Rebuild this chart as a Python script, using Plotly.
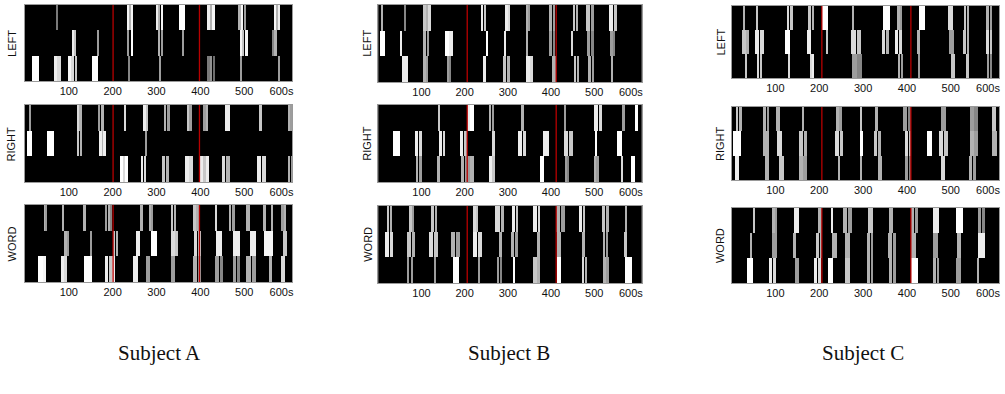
import plotly.graph_objects as go

# time axis (seconds)
X_RANGE = [0, 610]
TICK_VALS = [100, 200, 300, 400, 500, 585]
TICK_TEXT = ["100", "200", "300", "400", "500", "600s"]

SUBJECTS = ["Subject A", "Subject B", "Subject C"]
CONDITIONS = ["LEFT", "RIGHT", "WORD"]

# red event markers (s) per subject
RED_A = [201, 398]
RED_B = [206, 412]
RED_C = [206, 409]

# segments: (start s, end s, grey level 0..1); rows top / mid / bot
A_LEFT_top = [(71, 73, 0.35), (233, 237, 0.95), (238, 241, 0.6), (242, 247, 0.95), (300, 304, 0.9), (305, 309, 0.6), (310, 315, 0.95),
              (351, 364, 1.0), (417, 421, 0.9), (422, 426, 0.6), (427, 433, 0.95), (488, 492, 0.6), (493, 498, 0.95), (499, 505, 0.5),
              (567, 572, 0.95), (573, 576, 0.6), (577, 581, 0.9)]
A_LEFT_mid = [(108, 111, 0.9), (112, 116, 0.7), (165, 168, 0.5), (234, 237, 0.5), (243, 247, 1.0), (304, 308, 0.6), (310, 315, 0.5),
              (359, 362, 0.5), (491, 496, 0.95), (497, 500, 0.7), (501, 509, 0.95), (565, 568, 0.4), (570, 574, 0.6)]
A_LEFT_bot = [(15, 32, 1.0), (67, 72, 0.9), (73, 83, 0.8), (99, 104, 0.95), (106, 111, 0.8), (113, 118, 0.7), (153, 167, 1.0),
              (235, 238, 0.4), (306, 308, 0.5), (417, 421, 0.35), (423, 426, 0.45), (428, 433, 0.3), (491, 493, 0.5), (579, 581, 0.5)]

A_RIGHT_top = [(11, 13, 0.5), (119, 122, 0.8), (124, 129, 0.6), (167, 171, 0.5), (173, 180, 0.6), (225, 231, 0.8), (271, 275, 0.9),
               (277, 281, 0.7), (316, 321, 0.6), (323, 330, 0.5), (370, 375, 0.7), (376, 380, 0.5), (408, 412, 0.5), (413, 417, 0.6),
               (457, 468, 0.9), (533, 540, 0.7), (600, 603, 0.6), (606, 609, 0.5)]
A_RIGHT_mid = [(4, 17, 1.0), (51, 66, 1.0), (119, 123, 0.7), (125, 131, 0.6), (169, 175, 0.9), (176, 179, 0.6), (180, 184, 0.9),
               (275, 278, 0.5)]
A_RIGHT_bot = [(216, 224, 1.0), (225, 229, 0.8), (230, 234, 1.0), (266, 270, 0.9), (272, 277, 0.8), (313, 320, 0.7), (322, 329, 0.6),
               (364, 373, 0.9), (374, 382, 0.8), (398, 406, 0.9), (407, 412, 0.7), (413, 420, 0.9), (450, 457, 0.8), (459, 467, 0.6),
               (529, 539, 0.9), (540, 549, 0.8), (600, 604, 0.6), (606, 611, 0.5)]

A_WORD_top = [(44, 46, 0.6), (47, 49, 0.5), (85, 87, 0.6), (134, 138, 0.6), (184, 188, 0.5), (190, 194, 0.6), (195, 197, 0.4),
              (264, 268, 0.6), (283, 287, 0.6), (289, 292, 0.5), (332, 337, 0.7), (339, 344, 0.6), (382, 389, 0.7), (391, 398, 0.6),
              (435, 438, 0.8), (465, 470, 0.6), (472, 478, 0.5), (505, 512, 0.6), (543, 550, 0.6), (562, 564, 0.6), (584, 590, 0.5),
              (591, 596, 0.6)]
A_WORD_mid = [(91, 95, 0.6), (96, 99, 0.5), (150, 153, 0.5), (201, 206, 0.7), (208, 212, 0.6), (253, 263, 0.9), (287, 300, 1.0),
              (334, 341, 0.8), (343, 349, 0.7), (386, 393, 0.8), (395, 402, 0.7), (436, 450, 0.9), (474, 490, 0.9), (512, 527, 0.9),
              (546, 565, 0.95), (588, 597, 0.7)]
A_WORD_bot = [(30, 40, 1.0), (41, 49, 0.95), (81, 88, 0.9), (90, 96, 0.8), (135, 152, 1.0), (182, 190, 0.9), (192, 198, 0.7),
              (199, 205, 0.9), (247, 258, 0.9), (277, 285, 0.5), (334, 342, 0.5), (383, 392, 0.6), (394, 402, 0.5), (433, 442, 0.5),
              (444, 452, 0.4), (474, 482, 0.5), (484, 490, 0.4), (505, 515, 0.6), (517, 526, 0.5), (556, 564, 0.6), (584, 594, 0.8)]

B_LEFT_top = [(8, 11, 0.6), (61, 64, 0.4), (105, 110, 0.7), (112, 117, 0.6), (118, 122, 0.8), (240, 244, 0.9), (246, 249, 0.7),
              (295, 300, 0.9), (302, 306, 0.8), (343, 347, 0.6), (349, 353, 0.5), (395, 402, 0.6), (404, 410, 0.5), (451, 457, 0.7),
              (459, 464, 0.6), (482, 490, 0.7), (492, 499, 0.5), (535, 544, 0.9), (546, 553, 0.7)]
B_LEFT_mid = [(4, 16, 1.0), (52, 56, 0.9), (105, 111, 0.6), (113, 119, 0.5), (154, 164, 1.0), (165, 174, 0.9), (249, 254, 1.0),
              (293, 296, 0.9), (343, 347, 0.6), (395, 402, 0.5), (404, 410, 0.4), (447, 451, 0.8), (484, 491, 0.5), (493, 499, 0.4),
              (537, 543, 0.5), (545, 549, 0.4)]
B_LEFT_bot = [(56, 69, 0.9), (106, 110, 0.6), (112, 116, 0.5), (160, 164, 0.5), (166, 170, 0.4), (243, 249, 0.9), (290, 297, 0.7),
              (299, 306, 0.6), (343, 352, 0.9), (353, 360, 0.8), (403, 412, 0.6), (453, 459, 0.7), (461, 466, 0.6), (486, 493, 0.6),
              (495, 501, 0.5), (540, 543, 0.6)]

B_RIGHT_top = [(139, 143, 0.7), (206, 212, 0.9), (214, 222, 1.0), (256, 261, 0.6), (263, 268, 0.5), (332, 337, 0.6), (432, 436, 0.5),
               (501, 509, 0.9), (511, 518, 0.8), (564, 571, 0.5), (594, 603, 1.0)]
B_RIGHT_mid = [(35, 52, 1.0), (85, 92, 0.9), (94, 101, 0.8), (141, 148, 0.9), (150, 155, 0.8), (189, 197, 0.9), (199, 206, 0.7),
               (263, 272, 0.8), (324, 333, 0.9), (335, 343, 0.8), (382, 395, 0.9), (431, 440, 0.8), (442, 451, 0.7), (503, 507, 1.0),
               (553, 564, 1.0)]
B_RIGHT_bot = [(87, 93, 0.6), (96, 102, 0.5), (137, 143, 0.6), (191, 200, 0.6), (202, 212, 0.5), (214, 222, 0.6), (256, 263, 0.9),
               (265, 270, 0.7), (376, 384, 1.0), (432, 437, 0.5), (439, 443, 0.4), (499, 505, 0.6), (507, 511, 0.5), (564, 568, 0.8),
               (586, 594, 1.0)]

B_WORD_top = [(20, 26, 0.7), (27, 32, 0.6), (72, 78, 0.7), (79, 83, 0.5), (122, 130, 0.7), (131, 137, 0.6), (220, 226, 0.8),
              (228, 232, 0.7), (272, 282, 0.8), (284, 291, 0.6), (310, 317, 0.9), (319, 324, 0.7), (360, 368, 0.9), (370, 376, 0.8),
              (412, 422, 0.6), (424, 434, 0.5), (466, 473, 0.9), (475, 480, 0.7), (518, 526, 0.7), (528, 534, 0.6), (571, 576, 0.6)]
B_WORD_mid = [(16, 25, 0.9), (27, 35, 0.8), (68, 76, 0.7), (78, 85, 0.6), (119, 128, 0.8), (130, 139, 0.7), (170, 179, 0.6),
              (181, 189, 0.5), (220, 230, 0.9), (232, 240, 0.8), (280, 287, 0.6), (309, 316, 0.6), (318, 324, 0.5), (370, 374, 0.6),
              (414, 424, 0.6), (472, 480, 0.6), (520, 526, 0.6), (528, 532, 0.5), (570, 576, 0.7)]
B_WORD_bot = [(68, 72, 0.5), (78, 81, 0.5), (129, 135, 0.5), (173, 187, 1.0), (233, 237, 0.5), (276, 281, 0.5), (283, 287, 0.4),
              (314, 317, 1.0), (360, 367, 0.7), (369, 376, 0.6), (414, 424, 1.0), (472, 478, 0.8), (480, 484, 0.6), (522, 528, 0.6),
              (530, 534, 0.5), (572, 588, 1.0)]

C_LEFT_top = [(26, 29, 0.6), (55, 58, 0.7), (125, 131, 0.8), (133, 138, 0.7), (173, 180, 0.7), (182, 188, 0.6), (206, 220, 1.0),
              (275, 279, 0.6), (345, 360, 1.0), (377, 382, 0.6), (384, 388, 0.5), (426, 441, 1.0), (492, 503, 0.8), (528, 534, 0.7),
              (536, 541, 0.6), (579, 586, 0.6), (588, 594, 0.5)]
C_LEFT_mid = [(23, 31, 0.7), (33, 39, 0.6), (52, 61, 0.9), (63, 73, 0.8), (120, 133, 1.0), (171, 181, 0.9), (216, 220, 0.7),
              (271, 282, 0.8), (284, 294, 0.7), (341, 349, 0.8), (351, 358, 0.6), (371, 379, 0.9), (381, 388, 0.8), (424, 428, 0.6),
              (494, 506, 0.5), (526, 533, 0.7), (535, 541, 0.6), (579, 586, 0.8), (588, 594, 0.7)]
C_LEFT_bot = [(29, 35, 0.7), (57, 62, 0.8), (64, 69, 0.7), (129, 133, 0.8), (178, 183, 0.8), (184, 188, 0.9), (274, 284, 0.5),
              (286, 296, 0.4), (379, 384, 0.6), (386, 390, 0.5), (426, 428, 0.5), (500, 509, 0.7), (534, 541, 0.7), (581, 587, 0.5),
              (589, 594, 0.4)]

C_RIGHT_top = [(8, 14, 0.7), (17, 23, 0.6), (71, 77, 0.6), (79, 84, 0.5), (101, 110, 0.6), (160, 163, 0.6), (237, 243, 0.6),
               (245, 250, 0.5), (292, 297, 0.7), (326, 333, 0.6), (390, 399, 0.5), (401, 409, 0.4), (477, 488, 0.5), (543, 551, 0.5),
               (553, 560, 0.4), (594, 602, 0.7)]
C_RIGHT_mid = [(3, 21, 1.0), (71, 84, 0.6), (103, 113, 0.8), (153, 162, 0.7), (164, 171, 0.6), (235, 244, 0.8), (246, 254, 0.7),
               (292, 299, 1.0), (324, 331, 0.7), (333, 339, 0.6), (394, 401, 0.8), (403, 409, 0.7), (444, 456, 1.0), (473, 482, 0.8),
               (484, 492, 0.7), (543, 551, 0.6), (553, 560, 0.5), (594, 605, 0.6)]
C_RIGHT_bot = [(7, 16, 0.9), (76, 85, 0.6), (107, 118, 0.7), (152, 161, 0.6), (163, 171, 0.5), (243, 246, 0.6), (294, 297, 0.6),
               (333, 341, 0.6), (394, 401, 0.5), (403, 409, 0.4), (477, 485, 0.8), (541, 548, 0.6), (550, 556, 0.5)]

C_WORD_top = [(48, 51, 0.7), (91, 97, 0.6), (99, 103, 0.5), (141, 152, 0.9), (197, 205, 0.6), (228, 231, 0.9), (254, 263, 0.6),
              (265, 273, 0.5), (311, 322, 0.7), (358, 367, 0.6), (409, 416, 0.6), (418, 424, 0.5), (458, 473, 0.9), (511, 526, 1.0),
              (560, 568, 0.5), (570, 577, 0.4)]
C_WORD_mid = [(42, 46, 0.6), (91, 103, 0.5), (138, 146, 0.6), (191, 198, 0.7), (200, 205, 0.6), (228, 239, 0.6), (258, 269, 0.6),
              (307, 314, 0.6), (316, 322, 0.5), (356, 365, 0.6), (367, 375, 0.5), (409, 420, 0.6), (458, 469, 0.5), (513, 522, 0.6),
              (560, 577, 0.9)]
C_WORD_bot = [(35, 48, 1.0), (85, 92, 0.9), (94, 101, 0.8), (144, 152, 0.5), (186, 194, 0.9), (196, 203, 0.8), (220, 231, 1.0),
              (258, 269, 0.7), (307, 314, 0.6), (316, 322, 0.5), (359, 366, 0.6), (368, 375, 0.5), (409, 424, 1.0), (458, 465, 0.6),
              (467, 473, 0.5), (511, 522, 0.5), (560, 564, 0.6)]

PANELS = {
    ("A", "LEFT"): [A_LEFT_top, A_LEFT_mid, A_LEFT_bot],
    ("A", "RIGHT"): [A_RIGHT_top, A_RIGHT_mid, A_RIGHT_bot],
    ("A", "WORD"): [A_WORD_top, A_WORD_mid, A_WORD_bot],
    ("B", "LEFT"): [B_LEFT_top, B_LEFT_mid, B_LEFT_bot],
    ("B", "RIGHT"): [B_RIGHT_top, B_RIGHT_mid, B_RIGHT_bot],
    ("B", "WORD"): [B_WORD_top, B_WORD_mid, B_WORD_bot],
    ("C", "LEFT"): [C_LEFT_top, C_LEFT_mid, C_LEFT_bot],
    ("C", "RIGHT"): [C_RIGHT_top, C_RIGHT_mid, C_RIGHT_bot],
    ("C", "WORD"): [C_WORD_top, C_WORD_mid, C_WORD_bot],
}
REDS = {"A": RED_A, "B": RED_B, "C": RED_C}

# ---- layout geometry (pixels in the 1005x394 canvas) ----
W, H = 1005, 394
COL_X = {"A": (25, 293), "B": (379, 643), "C": (733, 1001)}
ROW_Y = {
    "A": {"LEFT": (5, 81), "RIGHT": (105, 182), "WORD": (205, 282)},
    "B": {"LEFT": (5, 82), "RIGHT": (105, 182), "WORD": (206, 283)},
    "C": {"LEFT": (6, 78), "RIGHT": (107, 180), "WORD": (208, 283)},
}
YLAB_X = {"A": 12, "B": 368, "C": 722}
SUBJ_X = {"A": 160, "B": 510, "C": 865}


def grey(v):
    g = int(round(min(1.0, v ** 0.7) * 255))
    return f"rgb({g},{g},{g})"


fig = go.Figure()
layout = {}
annotations = []
idx = 0
for s_key, subj in zip(["A", "B", "C"], SUBJECTS):
    for cond in CONDITIONS:
        idx += 1
        xa = "x" if idx == 1 else f"x{idx}"
        ya = "y" if idx == 1 else f"y{idx}"
        rows = PANELS[(s_key, cond)]
        xs, ws, bases, cols = [], [], [], []
        for r, segs in enumerate(rows):
            base = 2 - r
            for (a, b, v) in segs:
                xs.append((a + b) / 2)
                ws.append(max(b - a, 1.6))
                bases.append(base)
                cols.append(grey(v))
        fig.add_trace(go.Bar(x=xs, y=[1] * len(xs), base=bases, width=ws,
                             marker=dict(color=cols, line=dict(width=0)),
                             xaxis=xa, yaxis=ya, showlegend=False, hoverinfo="skip"))
        for rx in REDS[s_key]:
            fig.add_trace(go.Scatter(x=[rx, rx], y=[0, 3], mode="lines",
                                     line=dict(color="#b80000", width=1.3),
                                     xaxis=xa, yaxis=ya, showlegend=False, hoverinfo="skip"))
        x0, x1 = COL_X[s_key]
        y0, y1 = ROW_Y[s_key][cond]
        layout["xaxis" if idx == 1 else f"xaxis{idx}"] = dict(
            domain=[x0 / W, x1 / W], range=X_RANGE, anchor=ya,
            tickvals=TICK_VALS, ticktext=TICK_TEXT, ticks="", showgrid=False, zeroline=False,
            showline=True, linecolor="#9a9a9a", linewidth=1, mirror=True,
            tickfont=dict(family="Liberation Sans", size=11, color="#111"), ticklabelstandoff=0)
        layout["yaxis" if idx == 1 else f"yaxis{idx}"] = dict(
            domain=[1 - y1 / H, 1 - y0 / H], range=[0, 3], anchor=xa,
            showticklabels=False, ticks="", showgrid=False, zeroline=False,
            showline=True, linecolor="#9a9a9a", linewidth=1, mirror=True)
        annotations.append(dict(text=cond, x=YLAB_X[s_key] / W, y=1 - (y0 + y1) / 2 / H,
                                xref="paper", yref="paper", showarrow=False, textangle=-90,
                                font=dict(family="Liberation Sans", size=11, color="#111"),
                                xanchor="center", yanchor="middle"))
    annotations.append(dict(text=subj, x=SUBJ_X[s_key] / W, y=1 - 353 / H, xref="paper", yref="paper",
                            showarrow=False, font=dict(family="Liberation Serif", size=21, color="#111"),
                            xanchor="center", yanchor="middle"))

fig.update_layout(width=W, height=H, margin=dict(l=0, r=0, t=0, b=0),
                  paper_bgcolor="white", plot_bgcolor="black", barmode="overlay",
                  bargap=0, annotations=annotations, **layout)
fig.write_html("out.html", config={"displayModeBar": False},
               post_script="document.body.style.margin='0';document.body.style.overflow='hidden';")
